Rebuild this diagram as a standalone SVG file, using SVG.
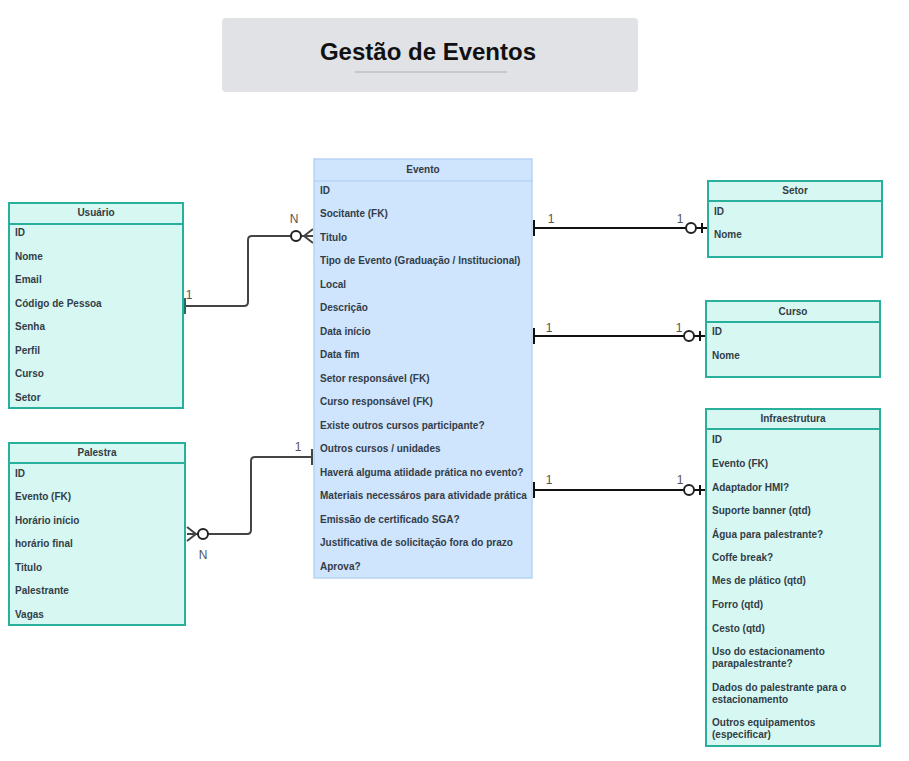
<svg xmlns="http://www.w3.org/2000/svg" width="909" height="761" viewBox="0 0 909 761">
<style>
text{font-family:"Liberation Sans",Arial,sans-serif}
.tb{fill:#d7f8f2;stroke:#28b09d;stroke-width:2}
.tl{stroke:#28b09d;stroke-width:2}
.eb{fill:#cfe4fd;stroke:#b5d4f4;stroke-width:1.5}
.el{stroke:#b5d4f4;stroke-width:1.5}
.h{font-size:10px;font-weight:bold;fill:#333b44;text-anchor:middle}
.r{font-size:10px;font-weight:bold;fill:#323d48}
.c1{fill:none;stroke:#444;stroke-width:2}
.c2{fill:none;stroke:#111;stroke-width:2}
.lab{font-size:12px;fill:#555}
.circ{fill:#fff;stroke:#222;stroke-width:2}
</style>
<rect width="909" height="761" fill="#fff"/>
<g id="title">
<rect x="222" y="18" width="416" height="74" rx="4" fill="#e0e2e6"/>
<text x="428" y="60" font-size="24" font-weight="bold" text-anchor="middle" fill="#111">Gestão de Eventos</text>
<line x1="355" y1="72" x2="507" y2="72" stroke="#aaadb2" stroke-width="1.2"/>
</g>
<g id="connectors">
<path class="c1" d="M185 306 H244 Q248 306 248 302 V240 Q248 236 252 236 H313"/>
<line x1="185" y1="298" x2="185" y2="314" stroke="#1f6e66" stroke-width="2"/>
<circle class="circ" cx="296" cy="236" r="5" stroke="#444"/>
<path class="c1" d="M304 236 L313 229 M304 236 L313 243"/>
<text class="lab" x="294" y="223" text-anchor="middle">N</text>
<text class="lab" x="189" y="299" text-anchor="middle">1</text>

<path class="c2" d="M534 228 H708"/>
<line x1="534" y1="220" x2="534" y2="236" stroke="#111" stroke-width="2"/>
<circle class="circ" cx="691" cy="228" r="5"/>
<line x1="702" y1="223" x2="702" y2="233" stroke="#111" stroke-width="2"/>
<text class="lab" x="551" y="223" text-anchor="middle">1</text>
<text class="lab" x="680" y="223" text-anchor="middle">1</text>

<path class="c2" d="M534 336 H706"/>
<line x1="534" y1="328" x2="534" y2="344" stroke="#111" stroke-width="2"/>
<circle class="circ" cx="689" cy="336" r="5"/>
<line x1="700" y1="331" x2="700" y2="341" stroke="#111" stroke-width="2"/>
<text class="lab" x="549" y="332" text-anchor="middle">1</text>
<text class="lab" x="679" y="332" text-anchor="middle">1</text>

<path class="c2" d="M534 490 H706"/>
<line x1="534" y1="482" x2="534" y2="498" stroke="#111" stroke-width="2"/>
<circle class="circ" cx="689" cy="490" r="5"/>
<line x1="700" y1="485" x2="700" y2="495" stroke="#111" stroke-width="2"/>
<text class="lab" x="549" y="484" text-anchor="middle">1</text>
<text class="lab" x="680" y="484" text-anchor="middle">1</text>

<path class="c1" d="M312 457 H255 Q251 457 251 461 V530 Q251 534 247 534 H187"/>
<line x1="312" y1="449" x2="312" y2="465" stroke="#444" stroke-width="2"/>
<circle class="circ" cx="203" cy="534" r="5" stroke="#444"/>
<path class="c1" d="M196 534 L187 527 M196 534 L187 541"/>
<text class="lab" x="298" y="451" text-anchor="middle">1</text>
<text class="lab" x="203" y="559" text-anchor="middle">N</text>
</g>
<g id="usuario">
<rect class="tb" x="9" y="203" width="174" height="205"/>
<line class="tl" x1="9" y1="224" x2="183" y2="224"/>
<text class="h" x="96" y="216">Usuário</text>
<text class="r" x="15" y="236">ID</text>
<text class="r" x="15" y="260">Nome</text>
<text class="r" x="15" y="283">Email</text>
<text class="r" x="15" y="307">Código de Pessoa</text>
<text class="r" x="15" y="330">Senha</text>
<text class="r" x="15" y="354">Perfil</text>
<text class="r" x="15" y="377">Curso</text>
<text class="r" x="15" y="401">Setor</text>
</g>
<g id="palestra">
<rect class="tb" x="9" y="443" width="176" height="182"/>
<line class="tl" x1="9" y1="463" x2="185" y2="463"/>
<text class="h" x="97" y="456">Palestra</text>
<text class="r" x="15" y="477">ID</text>
<text class="r" x="15" y="500">Evento (FK)</text>
<text class="r" x="15" y="524">Horário início</text>
<text class="r" x="15" y="547">horário final</text>
<text class="r" x="15" y="571">Titulo</text>
<text class="r" x="15" y="594">Palestrante</text>
<text class="r" x="15" y="618">Vagas</text>
</g>
<g id="evento">
<rect class="eb" x="314" y="159" width="218" height="419"/>
<line class="el" x1="314" y1="181" x2="532" y2="181"/>
<text class="h" x="423" y="173" font-size="11">Evento</text>
<text class="r" x="320" y="194">ID</text>
<text class="r" x="320" y="217">Socitante (FK)</text>
<text class="r" x="320" y="241">Titulo</text>
<text class="r" x="320" y="264">Tipo de Evento (Graduação / Institucional)</text>
<text class="r" x="320" y="288">Local</text>
<text class="r" x="320" y="311">Descrição</text>
<text class="r" x="320" y="335">Data início</text>
<text class="r" x="320" y="358">Data fim</text>
<text class="r" x="320" y="382">Setor responsável (FK)</text>
<text class="r" x="320" y="405">Curso responsável (FK)</text>
<text class="r" x="320" y="429">Existe outros cursos participante?</text>
<text class="r" x="320" y="452">Outros cursos / unidades</text>
<text class="r" x="320" y="476">Haverá alguma atiidade prática no evento?</text>
<text class="r" x="320" y="499">Materiais necessáros para atividade prática</text>
<text class="r" x="320" y="523">Emissão de certificado SGA?</text>
<text class="r" x="320" y="546">Justificativa de solicitação fora do prazo</text>
<text class="r" x="320" y="570">Aprova?</text>
</g>
<g id="setor">
<rect class="tb" x="708" y="181" width="174" height="76"/>
<line class="tl" x1="708" y1="201" x2="882" y2="201"/>
<text class="h" x="795" y="194">Setor</text>
<text class="r" x="714" y="215">ID</text>
<text class="r" x="714" y="238">Nome</text>
</g>
<g id="curso">
<rect class="tb" x="706" y="301" width="174" height="76"/>
<line class="tl" x1="706" y1="322" x2="880" y2="322"/>
<text class="h" x="793" y="315">Curso</text>
<text class="r" x="712" y="335">ID</text>
<text class="r" x="712" y="359">Nome</text>
</g>
<g id="infraestrutura">
<rect class="tb" x="706" y="409" width="174" height="337"/>
<line class="tl" x1="706" y1="429" x2="880" y2="429"/>
<text class="h" x="793" y="422">Infraestrutura</text>
<text class="r" x="712" y="443">ID</text>
<text class="r" x="712" y="467">Evento (FK)</text>
<text class="r" x="712" y="491">Adaptador HMI?</text>
<text class="r" x="712" y="514">Suporte banner (qtd)</text>
<text class="r" x="712" y="538">Água para palestrante?</text>
<text class="r" x="712" y="561">Coffe break?</text>
<text class="r" x="712" y="584">Mes de plático (qtd)</text>
<text class="r" x="712" y="608">Forro (qtd)</text>
<text class="r" x="712" y="632">Cesto (qtd)</text>
<text class="r" x="712" y="655">Uso do estacionamento</text>
<text class="r" x="712" y="667">parapalestrante?</text>
<text class="r" x="712" y="691">Dados do palestrante para o</text>
<text class="r" x="712" y="703">estacionamento</text>
<text class="r" x="712" y="726">Outros equipamentos</text>
<text class="r" x="712" y="738">(especificar)</text>
</g>
</svg>
